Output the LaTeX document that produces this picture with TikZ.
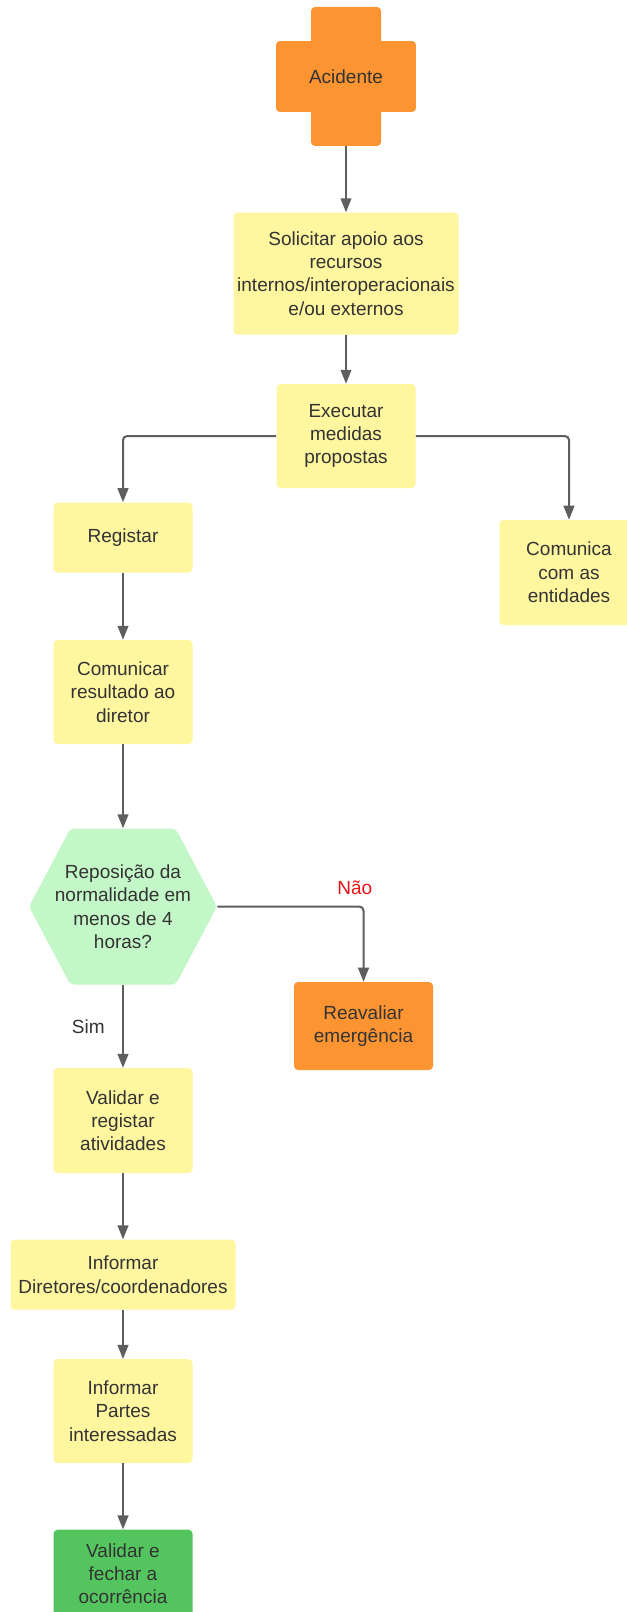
\documentclass[tikz,border=0pt]{standalone}
\usepackage{fontspec}
\setmainfont{Liberation Sans}
\usepackage{tikz}
\usetikzlibrary{positioning, arrows.meta}
\definecolor{amarelo}{HTML}{FFF6A0}
\definecolor{laranja}{HTML}{FC9432}
\definecolor{verdeclaro}{HTML}{C3F7C8}
\definecolor{verde}{HTML}{53C45E}
\definecolor{texto}{HTML}{333333}
\definecolor{linha}{HTML}{5E5E5E}
\definecolor{vermelho}{HTML}{E81414}
\tikzset{
    caixa/.style    = {fill=amarelo, rounded corners=3pt, align=center, inner sep=0pt,
                       text=texto, font=\fontsize{14.25}{17.5}\selectfont,
                       minimum width=104.25pt, minimum height=78pt},
    larga/.style    = {caixa, minimum width=168.75pt},
    baixa/.style    = {minimum height=52.5pt},
    cruz/.style     = {caixa, fill=none, minimum width=105pt, minimum height=104.25pt,
                       path picture={
                         \fill[laranja, rounded corners=3pt]
                           ([xshift=-26.25pt]path picture bounding box.north)
                           rectangle ([xshift=26.25pt]path picture bounding box.south);
                         \fill[laranja, rounded corners=3pt]
                           ([yshift=26.6pt]path picture bounding box.west)
                           rectangle ([yshift=-26.6pt]path picture bounding box.east);}},
    hexagono/.style = {caixa, fill=none, minimum width=141pt, minimum height=117pt,
                       path picture={
                         \fill[verdeclaro, rounded corners=3pt]
                           (path picture bounding box.west)
                           -- ([xshift=31pt]path picture bounding box.north west)
                           -- ([xshift=-31pt]path picture bounding box.north east)
                           -- (path picture bounding box.east)
                           -- ([xshift=-31pt]path picture bounding box.south east)
                           -- ([xshift=31pt]path picture bounding box.south west)
                           -- cycle;}},
    seta/.style     = {-{Triangle[length=10.5pt, width=8pt]}, line width=1.5pt,
                       draw=linha, rounded corners=3pt},
    rotulo/.style   = {font=\fontsize{14.25}{17.5}\selectfont, inner sep=0pt, text=texto}
}

\begin{document}
\begin{tikzpicture}[x=0.75pt, y=0.75pt]
    \useasboundingbox (0,0) rectangle (627,-1612);
    \clip (0,0) rectangle (627,-1612);

    \node[cruz] (acidente) at (346,-76.5) {Acidente};
    \node[larga, minimum height=91.5pt, below=49.5pt of acidente] (solicitar)
        {Solicitar apoio aos\\recursos\\internos/interoperacionais\\e/ou externos};
    \node[caixa, below=36.75pt of solicitar] (executar) {Executar\\medidas\\propostas};
    \node[caixa, baixa] (registar) at (123,-537.5) {Registar};
    \node[caixa, minimum height=78.75pt] (comunica) at (569,-572.5)
        {Comunica\\com as\\entidades};
    \node[caixa, below=50.25pt of registar] (comunicar)
        {Comunicar\\resultado ao\\diretor};
    \node[hexagono, below=63pt of comunicar] (decisao)
        {Reposição da\\normalidade em\\menos de 4\\horas?};
    \node[caixa, fill=laranja, minimum height=66pt] (reavaliar) at (363.5,-1026)
        {Reavaliar\\emergência};
    \node[caixa, minimum height=78.75pt, below=62.25pt of decisao] (validar)
        {Validar e\\registar\\atividades};
    \node[larga, baixa, below=49.5pt of validar] (diretores)
        {Informar\\Diretores/coordenadores};
    \node[caixa, below=36.75pt of diretores] (partes)
        {Informar\\Partes\\interessadas};
    \node[caixa, fill=verde, minimum height=66pt, below=49.5pt of partes] (fechar)
        {Validar e\\fechar a\\ocorrência};

    \draw[seta] (acidente) -- (solicitar);
    \draw[seta] (solicitar) -- (executar);
    \draw[seta] (executar) -| (registar);
    \draw[seta] (executar) -| (comunica);
    \draw[seta] (registar) -- (comunicar);
    \draw[seta] (comunicar) -- (decisao);
    \draw[seta] (decisao) -| node[rotulo, pos=0.47, above=8pt, text=vermelho] {Não} (reavaliar);
    \draw[seta] (decisao) -- node[rotulo, left=13pt] {Sim} (validar);
    \draw[seta] (validar) -- (diretores);
    \draw[seta] (diretores) -- (partes);
    \draw[seta] (partes) -- (fechar);
\end{tikzpicture}
\end{document}
